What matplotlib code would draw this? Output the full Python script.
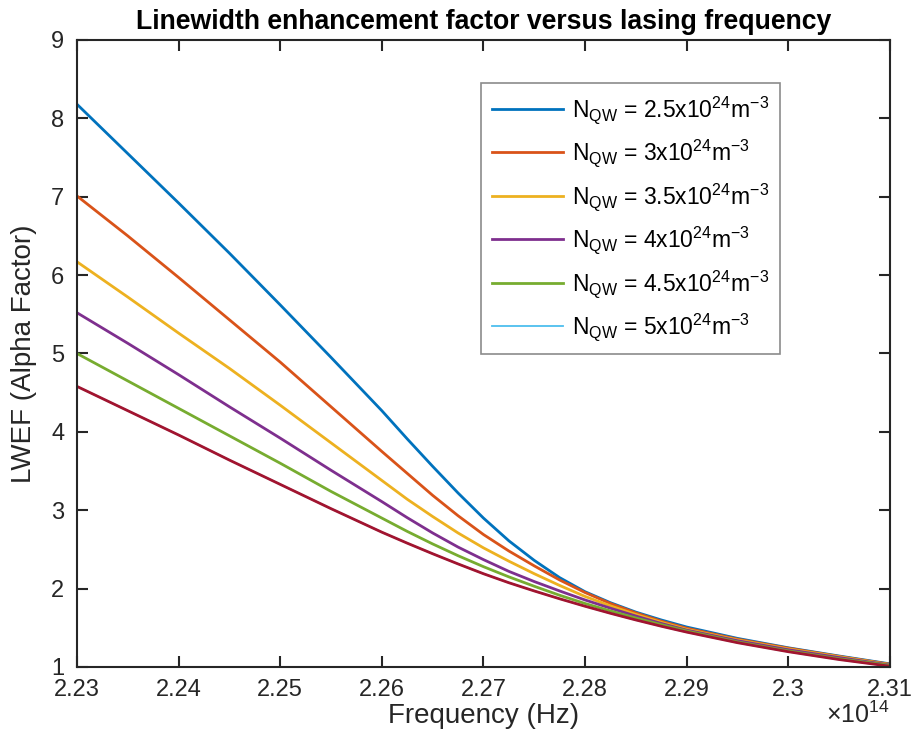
import numpy as np
import matplotlib
matplotlib.use("Agg")
import matplotlib.pyplot as plt

# frequency in units of 1e14 Hz (finer steps where the curves bend)
freq = [2.230, 2.235, 2.240, 2.245, 2.250, 2.255,
        2.2600, 2.2625, 2.2650, 2.2675, 2.2700, 2.2725, 2.2750,
        2.2775, 2.2800, 2.2825, 2.2850, 2.2875,
        2.290, 2.295, 2.300, 2.305, 2.310]

# LWEF for each carrier density
alpha_25 = [8.18, 7.55, 6.92, 6.28, 5.62, 4.95,
            4.27, 3.91, 3.56, 3.22, 2.90, 2.61, 2.36,
            2.14, 1.96, 1.82, 1.70, 1.60,
            1.51, 1.365, 1.245, 1.14, 1.04]
alpha_30 = [7.01, 6.50, 5.97, 5.43, 4.89, 4.32,
            3.75, 3.47, 3.19, 2.93, 2.69, 2.48, 2.29,
            2.11, 1.95, 1.81, 1.69, 1.585,
            1.495, 1.355, 1.24, 1.135, 1.035]
alpha_35 = [6.17, 5.72, 5.26, 4.81, 4.34, 3.86,
            3.38, 3.14, 2.92, 2.71, 2.52, 2.35, 2.19,
            2.04, 1.90, 1.78, 1.67, 1.57,
            1.48, 1.345, 1.23, 1.13, 1.03]
alpha_40 = [5.52, 5.13, 4.73, 4.32, 3.92, 3.51,
            3.11, 2.905, 2.71, 2.53, 2.37, 2.22, 2.09,
            1.97, 1.855, 1.75, 1.65, 1.555,
            1.47, 1.335, 1.22, 1.12, 1.025]
alpha_45 = [5.00, 4.65, 4.30, 3.95, 3.60, 3.24,
            2.90, 2.73, 2.57, 2.42, 2.28, 2.15, 2.03,
            1.915, 1.81, 1.715, 1.625, 1.54,
            1.46, 1.32, 1.205, 1.105, 1.02]
alpha_50 = [4.58, 4.27, 3.96, 3.64, 3.33, 3.02,
            2.72, 2.58, 2.445, 2.315, 2.19, 2.075, 1.97,
            1.87, 1.775, 1.685, 1.60, 1.52,
            1.445, 1.31, 1.195, 1.095, 1.01]

densities = ["2.5", "3", "3.5", "4", "4.5", "5"]
series = [alpha_25, alpha_30, alpha_35, alpha_40, alpha_45, alpha_50]
colors = ["#0072BD", "#D95319", "#EDB120", "#7E2F8E", "#77AC30", "#4DBEEE"]
last_color = "#A2142F"  # extra trace drawn over the last curve

plt.rcParams["font.family"] = ["Liberation Sans", "DejaVu Sans"]
plt.rcParams["mathtext.fontset"] = "custom"
plt.rcParams["mathtext.rm"] = "Liberation Sans"

fig = plt.figure(figsize=(9.14, 7.47), dpi=100)
ax = fig.add_axes([0.0842, 0.1071, 0.8895, 0.8394])

for d, vals, c in zip(densities, series, colors):
    lw = 1.3 if c == "#4DBEEE" else 2.0
    label = (r"N$_{\mathregular{QW}}$ = " + d +
             r"x10$^{\mathregular{24}}$m$^{\mathregular{-3}}$")
    ax.plot(freq, vals, color=c, lw=lw, label=label)
ax.plot(freq, alpha_50, color=last_color, lw=2.0)

ax.set_xlim(2.23, 2.31)
ax.set_ylim(1, 9)
ax.set_xticks(np.arange(2.23, 2.3101, 0.01))
ax.set_xticklabels(["2.23", "2.24", "2.25", "2.26", "2.27", "2.28",
                    "2.29", "2.3", "2.31"])
ax.set_yticks(range(1, 10))

dark = "#262626"
for s in ax.spines.values():
    s.set_color(dark)
    s.set_linewidth(1.5)
ax.tick_params(direction="in", length=8, width=1.5, color=dark,
               labelsize=17, labelcolor=dark, top=True, right=True, pad=9)

ax.set_xlabel("Frequency (Hz)", fontsize=20, color=dark, labelpad=1)
ax.set_ylabel("LWEF (Alpha Factor)", fontsize=20, color=dark, labelpad=10)
ax.set_title("Linewidth enhancement factor versus lasing frequency",
             fontsize=19.2, fontweight="bold", color="black", pad=8)

ax.text(1.0, -0.055, r"$\times\mathregular{10^{14}}$", transform=ax.transAxes,
        ha="right", va="top", fontsize=18, color=dark)

leg = ax.legend(loc="upper left", bbox_to_anchor=(0.497, 0.931),
                fontsize=16.5, frameon=True, fancybox=False,
                handlelength=3.1, labelspacing=0.52, borderpad=0.48,
                handletextpad=0.4, borderaxespad=0)
leg.get_frame().set_edgecolor("#6e6e6e")
leg.get_frame().set_linewidth(1.2)

fig.savefig("out.png", dpi=100)
